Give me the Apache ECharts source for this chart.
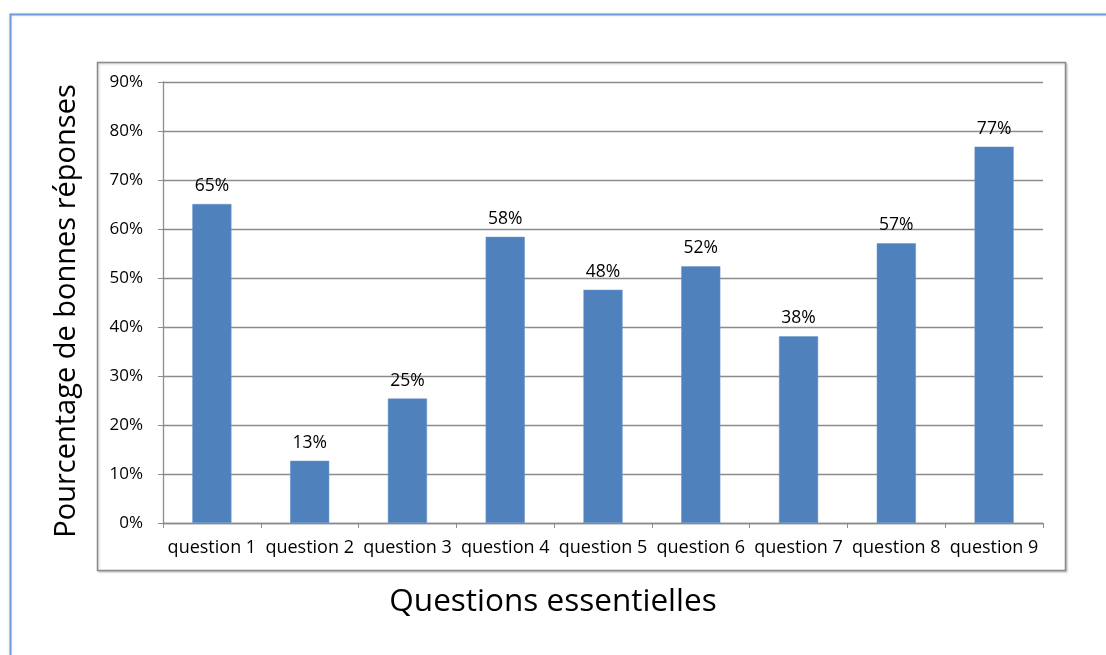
<!DOCTYPE html>
<html><head><meta charset="utf-8">
<script src="https://cdn.jsdelivr.net/npm/echarts@6/dist/echarts.min.js"></script>
<style>html,body{margin:0;padding:0;background:#fff}#c{width:1106px;height:655px}</style>
</head><body><div id="c"></div>
<script>
const categories = ['question 1','question 2','question 3','question 4','question 5','question 6','question 7','question 8','question 9'];
const values = [65.1, 12.7, 25.4, 58.4, 47.6, 52.4, 38.1, 57.1, 76.8];
const yTicks = [0, 10, 20, 30, 40, 50, 60, 70, 80, 90];
const yTitle = 'Pourcentage de bonnes réponses';
const xTitle = 'Questions essentielles';

const chart = echarts.init(document.getElementById('c'), null, {renderer:'canvas'});
const font = 'Open Sans, Liberation Sans, sans-serif';
chart.setOption({
  animation:false,
  backgroundColor:'#fff',
  graphic:[
    {type:'polyline', shape:{points:[[10.5,655],[10.5,14.5],[1106,14.5]]}, style:{stroke:'#6f9bd8', lineWidth:2, fill:null, shadowBlur:3, shadowColor:'rgba(0,0,0,0.15)'}, z:-1},
    {type:'rect', shape:{x:97.5,y:62.5,width:968,height:508}, style:{stroke:'#8c8c8c', lineWidth:1.5, fill:'#fff', shadowBlur:2, shadowColor:'rgba(0,0,0,0.2)', shadowOffsetX:1, shadowOffsetY:1}, z:-1},
    {type:'text', x:553, y:602, style:{text:xTitle, font:'31.5px ' + font, fill:'#000', textAlign:'center', textVerticalAlign:'middle'}},
    {type:'text', x:67, y:311, rotation:Math.PI/2, style:{text:yTitle, font:'29px ' + font, fill:'#000', textAlign:'center', textVerticalAlign:'middle'}}
  ],
  grid:{left:163, right:63, top:82, bottom:132, containLabel:false},
  xAxis:{
    type:'category', data:categories,
    axisLine:{lineStyle:{color:'#8c8c8c', width:1.3}},
    axisTick:{show:true, length:5, alignWithLabel:false, lineStyle:{color:'#8c8c8c'}},
    axisLabel:{fontFamily:font, fontSize:18, color:'#000', margin:16, interval:0}
  },
  yAxis:{
    type:'value', min:0, max:90, interval:10,
    axisLine:{show:true, lineStyle:{color:'#8c8c8c', width:1.3}},
    axisTick:{show:true, length:5, inside:false, lineStyle:{color:'#8c8c8c'}},
    axisLabel:{fontFamily:font, fontSize:17, color:'#000', margin:20,
      formatter:v => yTicks.includes(v) ? v + '%' : ''},
    splitLine:{show:true, lineStyle:{color:'#8c8c8c', width:1.3}}
  },
  series:[{
    type:'bar', data:values, barWidth:'40%',
    itemStyle:{color:'#4f81bd', borderColor:'#6b95c8', borderWidth:0.5},
    label:{show:true, position:'top', distance:9, fontFamily:font, fontSize:17.5, color:'#000',
      formatter:p => Math.round(p.value) + '%'}
  }]
});
</script></body></html>
